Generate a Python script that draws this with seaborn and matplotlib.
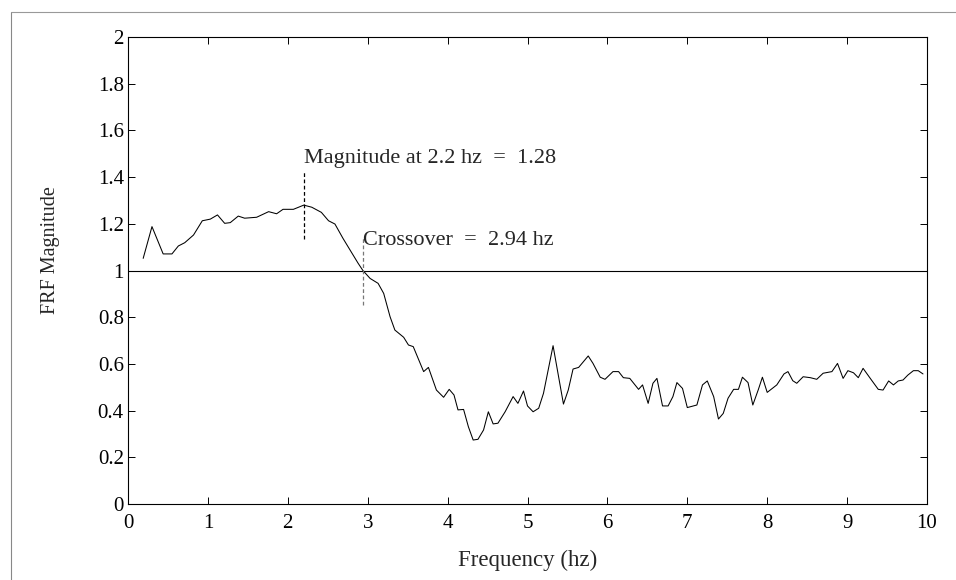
import matplotlib
matplotlib.use("Agg")
import matplotlib.pyplot as plt
from matplotlib.lines import Line2D
import seaborn as sns
import pandas as pd

# FRF magnitude vs frequency
freq_hz = [
    0.19, 0.30, 0.44, 0.55, 0.63, 0.71, 0.82, 0.93, 1.03, 1.12,
    1.21, 1.28, 1.38, 1.46, 1.61, 1.76, 1.86, 1.94, 2.07, 2.20,
    2.30, 2.42, 2.51, 2.59, 2.69, 2.80, 2.88, 2.94, 3.03, 3.13,
    3.20, 3.28, 3.34, 3.45, 3.51, 3.57, 3.70, 3.76, 3.86, 3.95,
    4.02, 4.08, 4.13, 4.20, 4.26, 4.32, 4.38, 4.45, 4.51, 4.57,
    4.63, 4.72, 4.82, 4.88, 4.95, 5.00, 5.07, 5.14, 5.20, 5.32,
    5.45, 5.51, 5.57, 5.64, 5.76, 5.82, 5.91, 5.97, 6.07, 6.14,
    6.20, 6.28, 6.39, 6.44, 6.51, 6.57, 6.62, 6.69, 6.76, 6.82,
    6.87, 6.94, 7.00, 7.12, 7.19, 7.25, 7.33, 7.39, 7.45, 7.51,
    7.58, 7.64, 7.69, 7.76, 7.82, 7.89, 7.94, 8.00, 8.12, 8.21,
    8.26, 8.32, 8.37, 8.45, 8.54, 8.62, 8.70, 8.81, 8.88, 8.95,
    9.01, 9.08, 9.14, 9.20, 9.29, 9.39, 9.45, 9.52, 9.58, 9.64,
    9.70, 9.76, 9.83, 9.89, 9.95,
]
frf_magnitude = [
    1.052, 1.188, 1.071, 1.071, 1.105, 1.119, 1.152, 1.213, 1.220, 1.238,
    1.202, 1.205, 1.233, 1.224, 1.228, 1.252, 1.243, 1.262, 1.262, 1.280,
    1.271, 1.249, 1.213, 1.199, 1.138, 1.076, 1.031, 1.000, 0.966, 0.945,
    0.902, 0.802, 0.745, 0.714, 0.681, 0.674, 0.567, 0.585, 0.488, 0.457,
    0.491, 0.467, 0.403, 0.405, 0.331, 0.274, 0.277, 0.317, 0.395, 0.343,
    0.346, 0.395, 0.460, 0.431, 0.484, 0.420, 0.395, 0.410, 0.474, 0.678,
    0.428, 0.488, 0.578, 0.585, 0.634, 0.602, 0.543, 0.534, 0.567, 0.567,
    0.541, 0.538, 0.491, 0.510, 0.431, 0.517, 0.538, 0.420, 0.420, 0.460,
    0.520, 0.495, 0.413, 0.424, 0.510, 0.527, 0.460, 0.364, 0.388, 0.453,
    0.491, 0.491, 0.543, 0.520, 0.424, 0.491, 0.543, 0.478, 0.510, 0.557,
    0.567, 0.528, 0.517, 0.545, 0.541, 0.534, 0.560, 0.567, 0.602, 0.538,
    0.571, 0.562, 0.541, 0.581, 0.538, 0.491, 0.488, 0.527, 0.510, 0.527,
    0.531, 0.552, 0.571, 0.571, 0.557,
]

peak_freq = 2.2
peak_mag = 1.28
crossover_freq = 2.94

x_ticks = [0, 1, 2, 3, 4, 5, 6, 7, 8, 9, 10]
y_ticks = [0, 0.2, 0.4, 0.6, 0.8, 1, 1.2, 1.4, 1.6, 1.8, 2]
y_tick_labels = ["0", "0.2", "0.4", "0.6", "0.8", "1", "1.2", "1.4", "1.6", "1.8", "2"]

sns.set_style("ticks")
plt.rcParams["font.family"] = ["Liberation Serif", "DejaVu Serif"]

df = pd.DataFrame({"freq": freq_hz, "mag": frf_magnitude})

fig = plt.figure(figsize=(9.56, 5.8), dpi=100)
ax = fig.add_axes([128 / 956, 76 / 580, 799 / 956, 467 / 580])

sns.lineplot(data=df, x="freq", y="mag", ax=ax, color="black", linewidth=0.75,
             estimator=None, sort=False)

# unity reference line
ax.axhline(1.0, color="black", linewidth=0.8)

# markers for the peak and the crossover
ax.plot([peak_freq, peak_freq], [1.134, 1.423], color="black",
        linestyle=(0, (3, 2)), linewidth=0.9)
ax.plot([crossover_freq, crossover_freq], [0.852, 1.145], color="#777777",
        linestyle=(0, (3, 2)), linewidth=0.9)

ax.text(peak_freq, 1.459, f"Magnitude at {peak_freq} hz  =  {peak_mag}",
        fontsize=16, ha="left", va="baseline")
ax.text(crossover_freq, 1.109, f"Crossover  =  {crossover_freq} hz",
        fontsize=16, ha="left", va="baseline")

ax.set_xlim(0, 10)
ax.set_ylim(0, 2)
ax.set_xticks(x_ticks)
ax.set_yticks(y_ticks)
ax.set_yticklabels(y_tick_labels)
ax.tick_params(direction="in", length=5, width=0.7, labelsize=15,
               top=True, right=True, colors="black")
ax.tick_params(axis="x", pad=7)
ax.tick_params(axis="y", pad=3)
for s in ax.spines.values():
    s.set_visible(True)
    s.set_linewidth(0.8)
    s.set_color("black")

ax.set_xlabel("Frequency (hz)", fontsize=16.5)
ax.set_ylabel("FRF Magnitude", fontsize=14.5)
ax.xaxis.set_label_coords(0.5, -0.098)
ax.yaxis.set_label_coords(-0.085, 0.544)

# page border lines
fig.add_artist(Line2D([11 / 956, 11 / 956], [0, 568 / 580], color="#888888",
                      linewidth=0.8, transform=fig.transFigure))
fig.add_artist(Line2D([11 / 956, 1.0], [568 / 580, 568 / 580], color="#999999",
                      linewidth=0.8, transform=fig.transFigure))

fig.savefig("out.png", dpi=100)
